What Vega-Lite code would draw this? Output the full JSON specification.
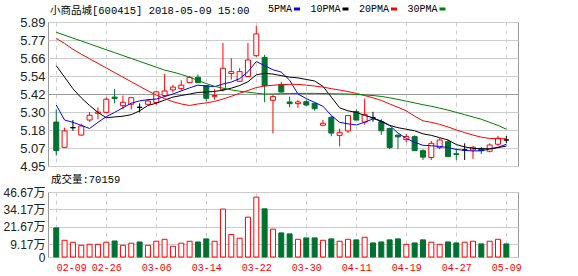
{
"$schema":"https://vega.github.io/schema/vega-lite/v6.json",
"padding":{"left":2,"top":4,"right":0,"bottom":0},
"background":"#ffffff",
"spacing":0,
"datasets":{"k":[
{"i":0,"d":"02-09","o":5.237,"h":5.32,"l":5.018,"c":5.05,"v":20.9,"5PMA":5.348,"10PMA":5.605,"20PMA":5.783,"30PMA":5.823},
{"i":1,"d":"02-12","o":5.072,"h":5.2,"l":5.07,"c":5.179,"v":12.0,"5PMA":5.25,"10PMA":5.53,"20PMA":5.75,"30PMA":5.804},
{"i":2,"d":"02-13","o":5.2,"h":5.25,"l":5.18,"c":5.2,"v":10.6,"5PMA":5.235,"10PMA":5.455,"20PMA":5.712,"30PMA":5.785},
{"i":3,"d":"02-14","o":5.152,"h":5.226,"l":5.148,"c":5.211,"v":8.4,"5PMA":5.215,"10PMA":5.395,"20PMA":5.68,"30PMA":5.766},
{"i":4,"d":"02-22","o":5.25,"h":5.302,"l":5.239,"c":5.281,"v":9.1,"5PMA":5.195,"10PMA":5.345,"20PMA":5.65,"30PMA":5.747},
{"i":5,"d":"02-23","o":5.294,"h":5.333,"l":5.255,"c":5.302,"v":9.1,"5PMA":5.235,"10PMA":5.3,"20PMA":5.62,"30PMA":5.728},
{"i":6,"d":"02-26","o":5.3,"h":5.399,"l":5.296,"c":5.386,"v":10.6,"5PMA":5.272,"10PMA":5.265,"20PMA":5.59,"30PMA":5.709},
{"i":7,"d":"02-27","o":5.4,"h":5.453,"l":5.359,"c":5.39,"v":11.5,"5PMA":5.3,"10PMA":5.27,"20PMA":5.56,"30PMA":5.69},
{"i":8,"d":"02-28","o":5.344,"h":5.41,"l":5.32,"c":5.366,"v":8.4,"5PMA":5.33,"10PMA":5.275,"20PMA":5.53,"30PMA":5.671},
{"i":9,"d":"03-01","o":5.353,"h":5.4,"l":5.318,"c":5.396,"v":9.9,"5PMA":5.36,"10PMA":5.285,"20PMA":5.5,"30PMA":5.652},
{"i":10,"d":"03-02","o":5.333,"h":5.359,"l":5.3,"c":5.333,"v":10.8,"5PMA":5.375,"10PMA":5.31,"20PMA":5.47,"30PMA":5.633},
{"i":11,"d":"03-05","o":5.353,"h":5.387,"l":5.353,"c":5.374,"v":8.4,"5PMA":5.383,"10PMA":5.345,"20PMA":5.44,"30PMA":5.614},
{"i":12,"d":"03-06","o":5.365,"h":5.44,"l":5.35,"c":5.434,"v":11.3,"5PMA":5.387,"10PMA":5.36,"20PMA":5.413,"30PMA":5.595},
{"i":13,"d":"03-07","o":5.41,"h":5.55,"l":5.4,"c":5.44,"v":12.7,"5PMA":5.403,"10PMA":5.38,"20PMA":5.39,"30PMA":5.576},
{"i":14,"d":"03-08","o":5.447,"h":5.48,"l":5.43,"c":5.465,"v":7.7,"5PMA":5.42,"10PMA":5.4,"20PMA":5.37,"30PMA":5.563},
{"i":15,"d":"03-09","o":5.455,"h":5.51,"l":5.44,"c":5.478,"v":9.9,"5PMA":5.44,"10PMA":5.41,"20PMA":5.355,"30PMA":5.548},
{"i":16,"d":"03-12","o":5.494,"h":5.538,"l":5.492,"c":5.529,"v":11.3,"5PMA":5.46,"10PMA":5.42,"20PMA":5.345,"30PMA":5.53},
{"i":17,"d":"03-13","o":5.529,"h":5.548,"l":5.494,"c":5.494,"v":10.8,"5PMA":5.478,"10PMA":5.43,"20PMA":5.355,"30PMA":5.508},
{"i":18,"d":"03-14","o":5.474,"h":5.478,"l":5.371,"c":5.392,"v":13.0,"5PMA":5.472,"10PMA":5.433,"20PMA":5.362,"30PMA":5.488},
{"i":19,"d":"03-15","o":5.405,"h":5.452,"l":5.383,"c":5.41,"v":11.3,"5PMA":5.468,"10PMA":5.437,"20PMA":5.372,"30PMA":5.47},
{"i":20,"d":"03-16","o":5.448,"h":5.753,"l":5.437,"c":5.588,"v":34.4,"5PMA":5.485,"10PMA":5.445,"20PMA":5.387,"30PMA":5.458},
{"i":21,"d":"03-19","o":5.554,"h":5.653,"l":5.514,"c":5.566,"v":16.1,"5PMA":5.498,"10PMA":5.458,"20PMA":5.405,"30PMA":5.447},
{"i":22,"d":"03-20","o":5.503,"h":5.588,"l":5.5,"c":5.566,"v":13.5,"5PMA":5.52,"10PMA":5.475,"20PMA":5.425,"30PMA":5.438},
{"i":23,"d":"03-21","o":5.534,"h":5.753,"l":5.53,"c":5.642,"v":28.6,"5PMA":5.565,"10PMA":5.5,"20PMA":5.443,"30PMA":5.432},
{"i":24,"d":"03-22","o":5.67,"h":5.864,"l":5.663,"c":5.812,"v":43.0,"5PMA":5.632,"10PMA":5.545,"20PMA":5.462,"30PMA":5.425},
{"i":25,"d":"03-23","o":5.659,"h":5.675,"l":5.366,"c":5.474,"v":34.6,"5PMA":5.605,"10PMA":5.555,"20PMA":5.472,"30PMA":5.42},
{"i":26,"d":"03-26","o":5.379,"h":5.413,"l":5.163,"c":5.403,"v":20.0,"5PMA":5.578,"10PMA":5.55,"20PMA":5.477,"30PMA":5.42},
{"i":27,"d":"03-27","o":5.48,"h":5.5,"l":5.43,"c":5.433,"v":17.3,"5PMA":5.563,"10PMA":5.54,"20PMA":5.481,"30PMA":5.422},
{"i":28,"d":"03-28","o":5.368,"h":5.403,"l":5.333,"c":5.357,"v":16.6,"5PMA":5.51,"10PMA":5.53,"20PMA":5.483,"30PMA":5.423},
{"i":29,"d":"03-29","o":5.357,"h":5.381,"l":5.329,"c":5.368,"v":12.7,"5PMA":5.42,"10PMA":5.525,"20PMA":5.483,"30PMA":5.424},
{"i":30,"d":"03-30","o":5.37,"h":5.384,"l":5.34,"c":5.348,"v":13.7,"5PMA":5.39,"10PMA":5.515,"20PMA":5.478,"30PMA":5.424},
{"i":31,"d":"04-02","o":5.359,"h":5.363,"l":5.311,"c":5.324,"v":13.7,"5PMA":5.365,"10PMA":5.505,"20PMA":5.472,"30PMA":5.424},
{"i":32,"d":"04-03","o":5.216,"h":5.25,"l":5.209,"c":5.229,"v":12.0,"5PMA":5.34,"10PMA":5.47,"20PMA":5.465,"30PMA":5.423},
{"i":33,"d":"04-04","o":5.268,"h":5.276,"l":5.144,"c":5.165,"v":13.0,"5PMA":5.28,"10PMA":5.4,"20PMA":5.455,"30PMA":5.422},
{"i":34,"d":"04-09","o":5.15,"h":5.194,"l":5.078,"c":5.17,"v":11.3,"5PMA":5.235,"10PMA":5.33,"20PMA":5.446,"30PMA":5.421},
{"i":35,"d":"04-10","o":5.179,"h":5.283,"l":5.165,"c":5.279,"v":12.7,"5PMA":5.225,"10PMA":5.31,"20PMA":5.436,"30PMA":5.42},
{"i":36,"d":"04-11","o":5.305,"h":5.32,"l":5.25,"c":5.25,"v":12.3,"5PMA":5.218,"10PMA":5.3,"20PMA":5.424,"30PMA":5.417},
{"i":37,"d":"04-12","o":5.237,"h":5.39,"l":5.22,"c":5.287,"v":14.2,"5PMA":5.235,"10PMA":5.28,"20PMA":5.41,"30PMA":5.414},
{"i":38,"d":"04-13","o":5.265,"h":5.304,"l":5.239,"c":5.265,"v":10.1,"5PMA":5.258,"10PMA":5.265,"20PMA":5.395,"30PMA":5.41},
{"i":39,"d":"04-16","o":5.239,"h":5.255,"l":5.153,"c":5.18,"v":10.8,"5PMA":5.245,"10PMA":5.24,"20PMA":5.378,"30PMA":5.404},
{"i":40,"d":"04-17","o":5.195,"h":5.2,"l":5.06,"c":5.07,"v":12.3,"5PMA":5.215,"10PMA":5.215,"20PMA":5.355,"30PMA":5.395},
{"i":41,"d":"04-18","o":5.152,"h":5.152,"l":5.06,"c":5.14,"v":13.0,"5PMA":5.165,"10PMA":5.2,"20PMA":5.333,"30PMA":5.385},
{"i":42,"d":"04-19","o":5.122,"h":5.16,"l":5.105,"c":5.142,"v":9.1,"5PMA":5.13,"10PMA":5.19,"20PMA":5.31,"30PMA":5.373},
{"i":43,"d":"04-20","o":5.142,"h":5.15,"l":5.05,"c":5.05,"v":10.1,"5PMA":5.105,"10PMA":5.18,"20PMA":5.275,"30PMA":5.362},
{"i":44,"d":"04-23","o":5.05,"h":5.059,"l":4.989,"c":5.008,"v":12.3,"5PMA":5.085,"10PMA":5.16,"20PMA":5.245,"30PMA":5.35},
{"i":45,"d":"04-24","o":5.005,"h":5.113,"l":4.99,"c":5.098,"v":10.6,"5PMA":5.082,"10PMA":5.15,"20PMA":5.235,"30PMA":5.34},
{"i":46,"d":"04-25","o":5.07,"h":5.131,"l":5.059,"c":5.12,"v":9.1,"5PMA":5.078,"10PMA":5.135,"20PMA":5.222,"30PMA":5.328},
{"i":47,"d":"04-26","o":5.109,"h":5.12,"l":5.011,"c":5.011,"v":10.8,"5PMA":5.07,"10PMA":5.12,"20PMA":5.205,"30PMA":5.315},
{"i":48,"d":"04-27","o":5.03,"h":5.065,"l":4.99,"c":5.025,"v":10.1,"5PMA":5.058,"10PMA":5.09,"20PMA":5.185,"30PMA":5.3},
{"i":49,"d":"05-02","o":5.055,"h":5.098,"l":4.989,"c":5.055,"v":10.6,"5PMA":5.052,"10PMA":5.075,"20PMA":5.168,"30PMA":5.285},
{"i":50,"d":"05-03","o":5.055,"h":5.081,"l":4.996,"c":5.072,"v":11.3,"5PMA":5.048,"10PMA":5.065,"20PMA":5.152,"30PMA":5.27},
{"i":51,"d":"05-04","o":5.065,"h":5.074,"l":5.028,"c":5.05,"v":9.4,"5PMA":5.05,"10PMA":5.062,"20PMA":5.138,"30PMA":5.255},
{"i":52,"d":"05-07","o":5.046,"h":5.098,"l":5.039,"c":5.087,"v":11.3,"5PMA":5.06,"10PMA":5.063,"20PMA":5.13,"30PMA":5.235},
{"i":53,"d":"05-08","o":5.092,"h":5.146,"l":5.081,"c":5.131,"v":12.7,"5PMA":5.072,"10PMA":5.07,"20PMA":5.128,"30PMA":5.215},
{"i":54,"d":"05-09","o":5.12,"h":5.146,"l":5.1,"c":5.12,"v":9.4,"5PMA":5.092,"10PMA":5.08,"20PMA":5.128,"30PMA":5.19}
]},
"config":{
 "view":{"stroke":"#999999","strokeWidth":1},
 "axis":{"domain":false,"ticks":false,"title":null,"labelColor":"#222222","labelFont":"Liberation Sans, Noto Sans CJK SC","labelFontSize":13,"labelPadding":3,"labelOverlap":false,"gridColor":"#cccccc","gridWidth":1},
 "title":{"fontWeight":"normal","anchor":"start","frame":"group","font":"Liberation Mono, Noto Sans CJK SC","fontSize":10.5,"color":"#000000"}
},
"vconcat":[
 {
  "width":470,"height":144,
  "title":{"text":"小商品城[600415] 2018-05-09 15:00","offset":0,"dx":2},
  "data":{"name":"k"},
  "encoding":{
   "x":{"field":"i","type":"quantitative","scale":{"domain":[-0.39,54.8],"nice":false,"zero":false},
        "axis":{"values":[0,6,12,18,24,30,36,42,48,54],"tickCount":10,"labels":false,"grid":true,"gridDash":[4,4]}}
  },
  "layer":[
   {"mark":{"type":"rule","strokeWidth":1},
    "encoding":{
     "y":{"field":"l","type":"quantitative","scale":{"domain":[4.95,5.89],"nice":false,"zero":false},
          "axis":{"values":[4.95,5.0675,5.185,5.3025,5.42,5.5375,5.655,5.7725,5.89],"tickCount":9,"format":".2f","grid":true,"labelOverlap":false,"labelFontSize":13,
                  "gridColor":{"condition":{"test":"datum.value == 5.42","value":"#999999"},"value":"#cccccc"}}},
     "y2":{"field":"h"},
     "stroke":{"condition":[{"test":"datum.c > datum.o","value":"#ff0000"},{"test":"datum.c < datum.o","value":"#007130"}],"value":"#000000"}
    }},
   {"data":{"values":[{"t":"东方财富网"}]},
    "mark":{"type":"text","font":"Noto Sans CJK SC","fontSize":14,"fontWeight":"bold","color":"#cfcfcf"},
    "encoding":{"x":{"datum":50.6},"y":{"datum":5.83},"text":{"field":"t"}}},
   {"data":{"values":[{"t":"eastmoney.com"}]},
    "mark":{"type":"text","font":"Liberation Sans","fontSize":10,"fontWeight":"bold","color":"#d4d4d4"},
    "encoding":{"x":{"datum":50.6},"y":{"datum":5.76},"text":{"field":"t"}}},
   {"mark":{"type":"bar","size":5,"strokeWidth":1},
    "encoding":{
     "y":{"field":"o","type":"quantitative"},
     "y2":{"field":"c"},
     "fill":{"condition":[{"test":"datum.c > datum.o","value":"#ffffff"},{"test":"datum.c < datum.o","value":"#007130"}],"value":"#000000"},
     "stroke":{"condition":[{"test":"datum.c > datum.o","value":"#ff0000"},{"test":"datum.c < datum.o","value":"#007130"}],"value":"#000000"}
    }},
   {"transform":[{"fold":["5PMA","10PMA","20PMA","30PMA"],"as":["ma","val"]}],
    "mark":{"type":"line","strokeWidth":1},
    "encoding":{
     "y":{"field":"val","type":"quantitative"},
     "color":{"field":"ma","type":"nominal",
       "scale":{"domain":["5PMA","10PMA","20PMA","30PMA"],"range":["#0000ff","#000000","#ff0000","#008000"]},
       "legend":{"orient":"none","legendX":244,"legendY":-18,"direction":"horizontal","title":null,
                 "symbolType":"M-1,0H1","symbolSize":36,"symbolStrokeWidth":3,
                 "labelAlign":"right","labelOffset":-10,"labelFont":"Liberation Mono","labelFontSize":10,
                 "labelColor":"#000000","columnPadding":3.5,"padding":0,"labelLimit":0}}
    }}
  ]
 },
 {
  "width":470,"height":65,
  "title":{"text":"成交量:70159","offset":1,"dx":3},
  "data":{"name":"k"},
  "transform":[{"window":[{"op":"lag","field":"c","as":"pc"}],"sort":[{"field":"i"}]}],
  "mark":{"type":"bar","size":5,"strokeWidth":1},
  "encoding":{
   "x":{"field":"i","type":"quantitative","scale":{"domain":[-0.39,54.8],"nice":false,"zero":false},
        "axis":{"values":[0,6,12,18,24,30,36,42,48,54],"tickCount":10,"grid":true,"gridDash":[4,4],
                "labelExpr":"['02-09','02-26','03-06','03-14','03-22','03-30','04-11','04-19','04-27','05-09'][round(datum.value/6)]",
                "labelColor":"#ff0000","labelFont":"Liberation Mono","labelFontSize":10,"labelPadding":5,
                "labelAlign":{"condition":{"test":"datum.value == 0","value":"left"},"value":"center"}}},
   "y":{"field":"v","type":"quantitative","scale":{"domain":[0,46.67],"nice":false},
        "axis":{"values":[0,9.17,21.67,34.17,46.67],"tickCount":5,"grid":true,"labelFontSize":12,
                "labelExpr":"datum.value == 0 ? '0' : format(datum.value, '.2f') + '万'"}},
   "fill":{"condition":{"test":"datum.c > datum.o || (datum.c == datum.o && datum.c > datum.pc)","value":"#ffffff"},"value":"#007130"},
   "stroke":{"condition":{"test":"datum.c > datum.o || (datum.c == datum.o && datum.c > datum.pc)","value":"#ff0000"},"value":"#007130"}
  }
 }
]
}
